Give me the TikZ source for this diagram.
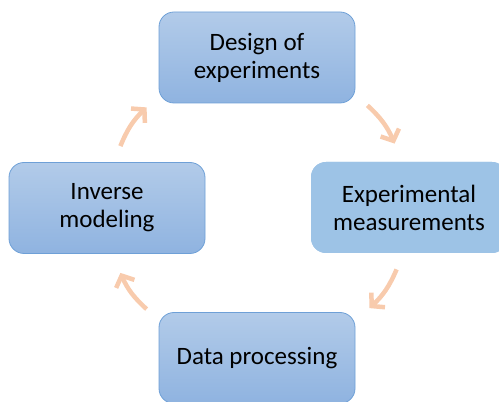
\documentclass[tikz,border=0pt]{standalone}
\usepackage{fontspec}
\setmainfont{Carlito}
\usetikzlibrary{arrows.meta,calc}

\definecolor{boxtop}{RGB}{178,203,233}
\definecolor{boxbot}{RGB}{143,179,224}
\definecolor{boxline}{RGB}{110,160,215}
\definecolor{flatbox}{RGB}{157,195,230}
\definecolor{peach}{RGB}{248,203,173}

\begin{document}
\begin{tikzpicture}[x=1pt,y=1pt,-{Straight Barb[length=9pt,width=20pt]},
  line width=4.5pt,peach,bend left=12,
  main node/.style={rectangle,rounded corners=15pt,minimum width=196pt,minimum height=91pt,
    top color=boxtop,bottom color=boxbot,draw=boxline,line width=0.8pt,text=black,
    align=center,font=\fontsize{25}{28}\selectfont},
  flat node/.style={main node,draw=none,fill=flatbox,top color=flatbox,bottom color=flatbox}]

\useasboundingbox (0,0) rectangle (499,402);
\clip (0,0) rectangle (499,402);

\node[main node](D) at (257,344.5) {Design of\\experiments};
\node[flat node](M) at (409,194.5) {Experimental\\measurements};
\node[main node](P) at (257,44) {Data processing};
\node[main node](I) at (107,194) {Inverse\\modeling};

\path
($(D.south east)+(12,-2)$) edge ($(M.north west)+(84,18)$)
($(M.south west)+(86,-16)$) edge ($(P.north east)+(14,4)$)
($(P.north west)+(-12,3)$) edge ($(I.south east)+(-85,-19)$)
($(I.north east)+(-85,16)$) edge ($(D.south west)+(-12,-4)$);
\end{tikzpicture}
\end{document}
